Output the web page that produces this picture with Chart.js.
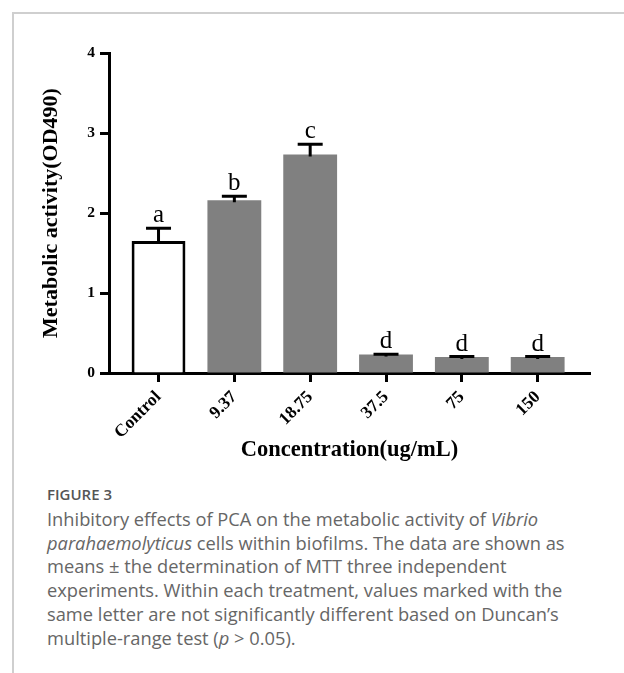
<!DOCTYPE html>
<html>
<head>
<meta charset="utf-8">
<script src="https://cdn.jsdelivr.net/npm/chart.js@4.4.0/dist/chart.umd.min.js"></script>
<style>
  html, body { margin:0; padding:0; background:#fff; }
  body { width:624px; height:673px; position:relative; overflow:hidden; }
  .card { position:absolute; left:12px; top:12px; right:-10px; bottom:-10px;
          border-top:2px solid #cfcfcf; border-left:2px solid #cfcfcf; }
  #wrap { position:absolute; left:0; top:0; width:624px; height:470px; }
  .fig { position:absolute; left:47px; top:484px; font-family:"Open Sans", sans-serif;
         font-size:15px; font-weight:600; color:#555; }
  .cap { position:absolute; left:47px; top:507px; font-family:"Open Sans", sans-serif;
         font-size:18.3px; line-height:23.7px; color:#666; white-space:nowrap; }
</style>
</head>
<body>
<div class="card"></div>
<div id="wrap"><canvas id="c"></canvas></div>
<div class="fig">FIGURE 3</div>
<div class="cap">
Inhibitory effects of PCA on the metabolic activity of <i>Vibrio</i><br>
<i>parahaemolyticus</i> cells within biofilms. The data are shown as<br>
means &plusmn; the determination of MTT three independent<br>
experiments. Within each treatment, values marked with the<br>
same letter are not significantly different based on Duncan&rsquo;s<br>
multiple-range test (<i>p</i> &gt; 0.05).
</div>
<script>
// values
const categories = ['Control', '9.37', '18.75', '37.5', '75', '150'];
const means      = [1.65, 2.16, 2.73, 0.23, 0.20, 0.20];
const errors     = [0.16, 0.05, 0.13, 0.005, 0.005, 0.005];
const letters    = ['a', 'b', 'c', 'd', 'd', 'd'];
const yTicks     = [0, 1, 2, 3, 4];

const SERIF = '"Liberation Serif", "Times New Roman", serif';

// error bars + significance letters on top of the bars
const errLetters = {
  id: 'errLetters',
  afterDatasetsDraw(chart) {
    const ctx = chart.ctx, y = chart.scales.y;
    const meta = chart.getDatasetMeta(0);
    ctx.save();
    ctx.strokeStyle = '#000';
    ctx.lineWidth = 3;
    ctx.lineCap = 'butt';
    meta.data.forEach((bar, i) => {
      const x = bar.x;
      const yb = y.getPixelForValue(means[i]);
      const yt = y.getPixelForValue(means[i] + errors[i]);
      ctx.beginPath();
      ctx.moveTo(x, yb + 2); ctx.lineTo(x, yt);
      ctx.moveTo(x - 12.5, yt); ctx.lineTo(x + 12.5, yt);
      ctx.stroke();
      ctx.fillStyle = '#000';
      ctx.font = '25px ' + SERIF;
      ctx.textAlign = 'center';
      ctx.textBaseline = 'alphabetic';
      ctx.fillText(letters[i], x, yt - 6);
    });
    ctx.restore();
  }
};

new Chart(document.getElementById('c'), {
  type: 'bar',
  data: {
    datasets: [{
      data: means.map((v, i) => ({ x: i, y: v })),
      backgroundColor: categories.map((c, i) => i === 0 ? '#ffffff' : '#808080'),
      borderColor: categories.map((c, i) => i === 0 ? '#000000' : '#808080'),
      borderWidth: categories.map((c, i) => i === 0 ? 3 : 0),
      barPercentage: 0.71,
      categoryPercentage: 1
    }]
  },
  options: {
    responsive: true, maintainAspectRatio: false, animation: false,
    devicePixelRatio: 1,
    layout: { padding: { left: 0, top: 53, right: 34, bottom: 0 } },
    plugins: { legend: { display: false }, tooltip: { enabled: false } },
    scales: {
      x: {
        type: 'linear', min: -0.653, max: 5.69, offset: false,
        afterBuildTicks: s => { s.ticks = categories.map((c, i) => ({ value: i })); },
        afterFit: s => { s.height = 97; },
        grid: { offset: false, drawOnChartArea: false, drawTicks: true, tickLength: 9, tickWidth: 3, tickColor: '#000' },
        border: { display: true, width: 3, color: '#000' },
        ticks: {
          minRotation: 45, maxRotation: 45, padding: 5, color: '#000',
          font: { family: SERIF, size: 17.5, weight: 'bold' },
          callback: v => categories[v]
        },
        title: {
          display: true, text: 'Concentration(ug/mL)', color: '#000',
          font: { family: SERIF, size: 22.5, weight: 'bold' },
          padding: { top: 0, bottom: 6 }
        }
      },
      y: {
        min: 0, max: 4,
        afterBuildTicks: s => { s.ticks = yTicks.map(v => ({ value: v })); },
        afterFit: s => { s.width = 109; },
        grid: { drawOnChartArea: false, drawTicks: true, tickLength: 9, tickWidth: 3, tickColor: '#000' },
        border: { display: true, width: 3, color: '#000' },
        ticks: {
          padding: 5, color: '#000',
          font: { family: SERIF, size: 15.5, weight: 'bold' }
        },
        title: {
          display: true, text: 'Metabolic activity(OD490)', color: '#000',
          font: { family: SERIF, size: 22, weight: 'bold' },
          padding: { top: 38, bottom: 0 }
        }
      }
    }
  },
  plugins: [errLetters]
});
</script>
</body>
</html>
